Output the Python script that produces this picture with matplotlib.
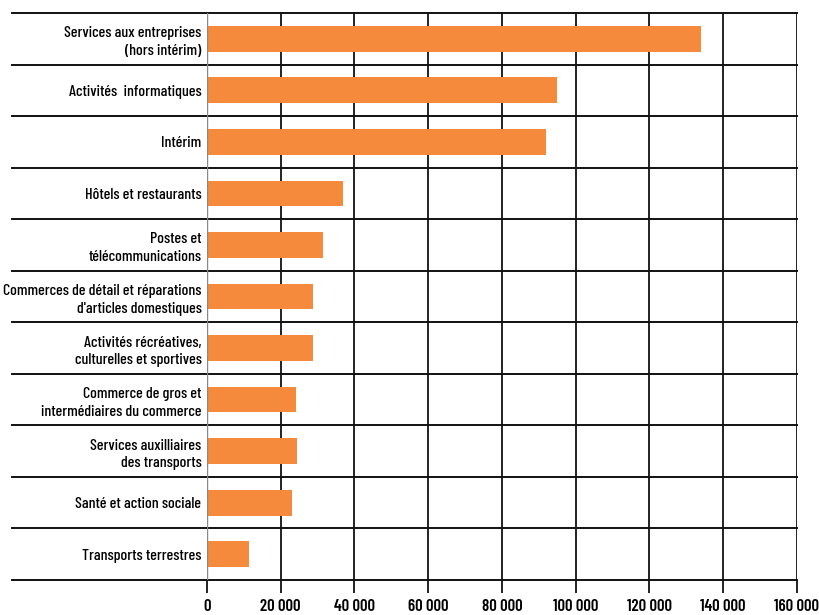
import matplotlib.pyplot as plt

# categories, top to bottom
categories = [
    "Services aux entreprises\n(hors intérim)",
    "Activités  informatiques",
    "Intérim",
    "Hôtels et restaurants",
    "Postes et\ntélécommunications",
    "Commerces de détail et réparations\nd'articles domestiques",
    "Activités récréatives,\nculturelles et sportives",
    "Commerce de gros et\nintermédiaires du commerce",
    "Services auxilliaires\ndes transports",
    "Santé et action sociale",
    "Transports terrestres",
]
values = [134000, 95000, 92000, 37000, 31500, 28700, 28700, 24100, 24400, 23000, 11400]
xticks = [0, 20000, 40000, 60000, 80000, 100000, 120000, 140000, 160000]
xticklabels = ["0", "20 000", "40 000", "60 000", "80 000", "100 000",
               "120 000", "140 000", "160 000"]

plt.rcParams['font.family'] = ['Barlow Condensed', 'DejaVu Sans']

fig = plt.figure(figsize=(8.2, 6.15), dpi=100)
ax = fig.add_axes([0.2524, 0.0569, 0.7195, 0.922])

ypos = list(range(len(categories)))
ax.barh(ypos, values, height=0.5, color='#F58A3C', zorder=3)

ax.set_xlim(0, 160000)
ax.set_ylim(len(categories) - 0.5, -0.5)

# horizontal separators, reaching into the label area
for k in range(len(categories) + 1):
    ax.axhline(k - 0.5, xmin=-0.33, xmax=1, color='#111111', lw=1.4,
               clip_on=False, zorder=2)
# vertical grid lines
for t in xticks[1:]:
    ax.axvline(t, color='#111111', lw=1.3, zorder=2)

for s in ax.spines.values():
    s.set_visible(False)
ax.axvline(0, color='#888888', lw=1, zorder=4)

ax.set_xticks(xticks)
ax.set_xticklabels(xticklabels, fontsize=12, fontweight=600)
ax.tick_params(axis='x', length=9, width=1.3, color='#111111', pad=5)
ax.set_yticks(ypos)
ax.set_yticklabels(categories, fontsize=11.5, fontweight=500, linespacing=1.35)
ax.tick_params(axis='y', length=0, pad=4)

fig.savefig('out.png', dpi=100)
